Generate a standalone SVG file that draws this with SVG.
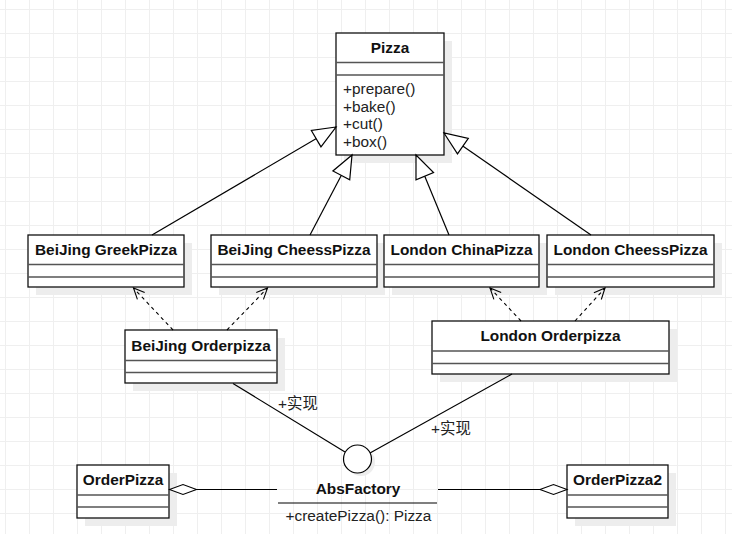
<svg xmlns="http://www.w3.org/2000/svg" width="732" height="534" viewBox="0 0 732 534">
<defs>
<pattern id="grid" x="5" y="9" width="24" height="24" patternUnits="userSpaceOnUse">
<path d="M0,0.5 H24 M0.5,0 V24" fill="none" stroke="#efefef" stroke-width="1"/>
</pattern>
<marker id="gen" viewBox="-25 -11 27 22" refX="0" refY="0" markerWidth="27" markerHeight="22" markerUnits="userSpaceOnUse" orient="auto">
<path d="M0,0 L-23,-9.5 L-23,9.5 Z" fill="#fff" stroke="#000" stroke-width="1.2"/>
</marker>
<marker id="dep" viewBox="-13 -7 15 14" refX="0" refY="0" markerWidth="15" markerHeight="14" markerUnits="userSpaceOnUse" orient="auto">
<path d="M-11,-5 L0,0 L-11,5" fill="none" stroke="#000" stroke-width="1.1"/>
</marker>
<marker id="agg" viewBox="-29 -7 31 14" refX="0" refY="0" markerWidth="31" markerHeight="14" markerUnits="userSpaceOnUse" orient="auto">
<path d="M0,0 L-13.5,-5 L-27,0 L-13.5,5 Z" fill="#fff" stroke="#000" stroke-width="1.1"/>
</marker>
</defs>
<style>
.box{fill:#fff;stroke:#111;stroke-width:1.3}
.shadow{fill:#ededed}
.div{stroke:#555;stroke-width:1.3}
.title{font-family:"Liberation Sans",Arial,"Noto Sans CJK SC",sans-serif;font-size:15.4px;font-weight:bold;fill:#111;text-anchor:middle}
.txt{font-family:"Liberation Sans",Arial,"Noto Sans CJK SC",sans-serif;font-size:15.4px;fill:#222}
.ln{fill:none;stroke:#000;stroke-width:1.2}
.dash{fill:none;stroke:#000;stroke-width:1.1;stroke-dasharray:3.5 3.5}
</style>
<rect width="732" height="534" fill="#fff"/>
<rect width="732" height="534" fill="url(#grid)"/>

<g id="node-pizza">
<rect class="shadow" x="344" y="41" width="108" height="122"/>
<rect class="box" x="336" y="33" width="108" height="122"/>
<line class="div" x1="336" y1="62.5" x2="444" y2="62.5"/>
<line class="div" x1="336" y1="75" x2="444" y2="75"/>
<text class="title" x="390" y="53">Pizza</text>
<text class="txt" x="343" y="94">+prepare()</text>
<text class="txt" x="343" y="111.7">+bake()</text>
<text class="txt" x="343" y="129.4">+cut()</text>
<text class="txt" x="343" y="147">+box()</text>
</g>

<g id="node-beijing-greek">
<rect class="shadow" x="36" y="243" width="156" height="52"/>
<rect class="box" x="28" y="235" width="156" height="52"/>
<line class="div" x1="28" y1="264.5" x2="184" y2="264.5"/>
<line class="div" x1="28" y1="277" x2="184" y2="277"/>
<text class="title" x="106" y="255">BeiJing GreekPizza</text>
</g>

<g id="node-beijing-cheess">
<rect class="shadow" x="219" y="243" width="166" height="52"/>
<rect class="box" x="211" y="235" width="166" height="52"/>
<line class="div" x1="211" y1="264.5" x2="377" y2="264.5"/>
<line class="div" x1="211" y1="277" x2="377" y2="277"/>
<text class="title" x="294" y="255">BeiJing CheessPizza</text>
</g>

<g id="node-london-china">
<rect class="shadow" x="392" y="243" width="155" height="52"/>
<rect class="box" x="384" y="235" width="155" height="52"/>
<line class="div" x1="384" y1="264.5" x2="539" y2="264.5"/>
<line class="div" x1="384" y1="277" x2="539" y2="277"/>
<text class="title" x="461.5" y="255">London ChinaPizza</text>
</g>

<g id="node-london-cheess">
<rect class="shadow" x="555" y="243" width="167" height="52"/>
<rect class="box" x="547" y="235" width="167" height="52"/>
<line class="div" x1="547" y1="264.5" x2="714" y2="264.5"/>
<line class="div" x1="547" y1="277" x2="714" y2="277"/>
<text class="title" x="630.5" y="255">London CheessPizza</text>
</g>

<g id="node-beijing-order">
<rect class="shadow" x="133" y="338" width="152" height="53"/>
<rect class="box" x="125" y="330" width="152" height="53"/>
<line class="div" x1="125" y1="360.5" x2="277" y2="360.5"/>
<line class="div" x1="125" y1="372.5" x2="277" y2="372.5"/>
<text class="title" x="201" y="350.5">BeiJing Orderpizza</text>
</g>

<g id="node-london-order">
<rect class="shadow" x="440" y="329" width="237" height="53"/>
<rect class="box" x="432" y="321" width="237" height="53"/>
<line class="div" x1="432" y1="351" x2="669" y2="351"/>
<line class="div" x1="432" y1="363.5" x2="669" y2="363.5"/>
<text class="title" x="550.5" y="341">London Orderpizza</text>
</g>

<g id="node-absfactory">
<circle cx="361" cy="462" r="14" fill="#ededed"/>
<circle cx="357.5" cy="459" r="14" fill="#fff" stroke="#000" stroke-width="1.2"/>
<text class="title" x="358" y="493.5">AbsFactory</text>
<line x1="278" y1="503" x2="437" y2="503" stroke="#000" stroke-width="1.2"/>
<text class="txt" x="285.5" y="520.5">+createPizza(): Pizza</text>
</g>

<g id="node-orderpizza">
<rect class="shadow" x="85" y="473" width="92" height="53"/>
<rect class="box" x="77" y="465" width="92" height="53"/>
<line class="div" x1="77" y1="495" x2="169" y2="495"/>
<line class="div" x1="77" y1="507" x2="169" y2="507"/>
<text class="title" x="123" y="485">OrderPizza</text>
</g>

<g id="node-orderpizza2">
<rect class="shadow" x="575" y="473" width="101" height="53"/>
<rect class="box" x="567" y="465" width="101" height="53"/>
<line class="div" x1="567" y1="495" x2="668" y2="495"/>
<line class="div" x1="567" y1="507" x2="668" y2="507"/>
<text class="title" x="617.5" y="485">OrderPizza2</text>
</g>

<g id="connectors">
<path class="ln" d="M152,235 L336,127" marker-end="url(#gen)"/>
<path class="ln" d="M310,235 L352,155" marker-end="url(#gen)"/>
<path class="ln" d="M449,235 L416,155" marker-end="url(#gen)"/>
<path class="ln" d="M591,235 L444,133" marker-end="url(#gen)"/>
<path class="dash" d="M173,330 L133.5,288" marker-end="url(#dep)"/>
<path class="dash" d="M227,330 L267.5,288" marker-end="url(#dep)"/>
<path class="dash" d="M521,321 L490,288" marker-end="url(#dep)"/>
<path class="dash" d="M575,321 L605,288" marker-end="url(#dep)"/>
<path class="ln" d="M233,383.5 L345,452"/>
<path class="ln" d="M370,453 L512,374"/>
<text class="txt" x="278" y="409">+实现</text>
<text class="txt" x="431" y="434">+实现</text>
<path class="ln" d="M277,489.5 L169.5,489.5" marker-end="url(#agg)"/>
<path class="ln" d="M438,489.5 L567,489.5" marker-end="url(#agg)"/>
</g>
</svg>
